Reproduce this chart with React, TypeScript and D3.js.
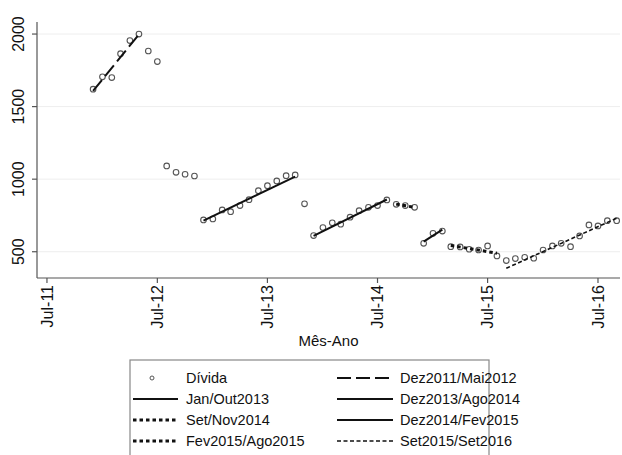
import React from 'react';
import * as d3 from 'd3';

// monthly debt series, first observation Dec 2011
const firstMonth = '2011-12';
const divida = [
  1620, 1705, 1700, 1865, 1955, 2000, 1883, 1810, 1091, 1047, 1034, 1022,
  719, 726, 788, 776, 818, 859, 921, 955, 988, 1024, 1029, 830,
  611, 667, 699, 690, 738, 783, 806, 818, 857, 827, 818, 806,
  558, 627, 642, 535, 533, 517, 512, 540, 471, 439, 453, 462,
  455, 512, 540, 558, 535, 609, 685, 678, 714, 714,
];

// fitted trend segments
const segLabels = ['Dez2011/Mai2012', 'Jan/Out2013', 'Dez2013/Ago2014', 'Set/Nov2014', 'Dez2014/Fev2015', 'Fev2015/Ago2015', 'Set2015/Set2016'];
const segStart = ['2011-12', '2012-12', '2013-12', '2014-09', '2014-12', '2015-03', '2015-09'];
const segEnd = ['2012-05', '2013-10', '2014-08', '2014-11', '2015-02', '2015-08', '2016-09'];
const segFrom = [1608, 715, 609, 828, 570, 543, 386];
const segTo = [1998, 1018, 860, 806, 652, 490, 731];

const yTicks = [500, 1000, 1500, 2000];
const xTicks = ['2011-07', '2012-07', '2013-07', '2014-07', '2015-07', '2016-07'];

const parseMonth = d3.timeParse('%Y-%m');
const fmtTick = d3.timeFormat('%b-%y');

const W = 622;
const H = 455;
const font = 'Liberation Sans, Arial, Helvetica, sans-serif';

type LineStyle = { dash?: string; width: number };
const segStyle: LineStyle[] = [
  { dash: '14 5', width: 2 },
  { width: 2 },
  { width: 2 },
  { dash: '3.5 3', width: 3 },
  { width: 2 },
  { dash: '3.5 3', width: 3 },
  { dash: '4 2.5', width: 1.6 },
];

export default function App() {
  const x = d3.scaleTime()
    .domain([new Date(2011, 4, 29), new Date(2016, 8, 12)])
    .range([37, 620]);
  const y = d3.scaleLinear().domain([319, 2083]).range([278, 22]);

  const start = parseMonth(firstMonth) as Date;
  const pts = divida.map((v, i) => ({ date: d3.timeMonth.offset(start, i), v }));

  const line = d3.line<[Date, number]>()
    .x(d => x(d[0]))
    .y(d => y(d[1]));

  const [x0, x1] = x.range();
  const [yb, yt] = y.range();

  // legend entries, row-major in two columns
  const legend = [{ label: 'Dívida', seg: -1 }, ...segLabels.map((label, i) => ({ label, seg: i }))];

  return (
    <svg width={W} height={H} style={{ position: 'fixed', left: 0, top: 0, background: '#fff' }} fontFamily={font}>
      {/* grid */}
      {yTicks.map(t => (
        <line key={'g' + t} x1={x0} x2={x1} y1={y(t)} y2={y(t)} stroke="#eeeeee" strokeWidth={1} />
      ))}

      {/* axes */}
      <line x1={x0} x2={x0} y1={yt} y2={yb} stroke="#555" strokeWidth={1.2} />
      <line x1={x0} x2={x1} y1={yb} y2={yb} stroke="#555" strokeWidth={1.2} />
      {yTicks.map(t => (
        <g key={'y' + t}>
          <line x1={x0 - 5} x2={x0} y1={y(t)} y2={y(t)} stroke="#555" strokeWidth={1.2} />
          <text transform={`translate(24,${y(t)}) rotate(-90)`} textAnchor="middle" fontSize={16} fill="#111">{t}</text>
        </g>
      ))}
      {xTicks.map(t => {
        const d = parseMonth(t) as Date;
        return (
          <g key={'x' + t}>
            <line x1={x(d)} x2={x(d)} y1={yb} y2={yb + 5} stroke="#555" strokeWidth={1.2} />
            <text transform={`translate(${x(d)},${yb + 7}) rotate(-90)`} textAnchor="end" dy="0.35em" fontSize={16} fill="#111">{fmtTick(d)}</text>
          </g>
        );
      })}
      <text x={(x0 + x1) / 2} y={346} textAnchor="middle" fontSize={15} fill="#111">Mês-Ano</text>

      {/* observations */}
      {pts.map((p, i) => (
        <circle key={i} cx={x(p.date)} cy={y(p.v)} r={2.8} fill="none" stroke="#555" strokeWidth={1.1} />
      ))}

      {/* trend lines */}
      {segLabels.map((s, i) => (
        <path key={s}
          d={line([[parseMonth(segStart[i]) as Date, segFrom[i]], [parseMonth(segEnd[i]) as Date, segTo[i]]]) || ''}
          fill="none" stroke="#111" strokeWidth={segStyle[i].width} strokeDasharray={segStyle[i].dash} />
      ))}

      {/* legend */}
      <rect x={130} y={360} width={359} height={100} fill="#fff" stroke="#888" strokeWidth={1.2} />
      {legend.map((e, k) => {
        const col = k % 2;
        const row = Math.floor(k / 2);
        const cy = 378 + row * 21;
        const sx0 = col === 0 ? 133 : 337;
        const sx1 = col === 0 ? 178 : 393;
        const tx = col === 0 ? 186 : 400;
        return (
          <g key={e.label}>
            {e.seg < 0 ? (
              <circle cx={152} cy={cy} r={2} fill="none" stroke="#555" strokeWidth={1} />
            ) : (
              <line x1={sx0} x2={sx1} y1={cy} y2={cy} stroke="#111"
                strokeWidth={segStyle[e.seg].width} strokeDasharray={segStyle[e.seg].dash} />
            )}
            <text x={tx} y={cy} dy="0.35em" fontSize={14.5} fill="#111">{e.label}</text>
          </g>
        );
      })}
    </svg>
  );
}
